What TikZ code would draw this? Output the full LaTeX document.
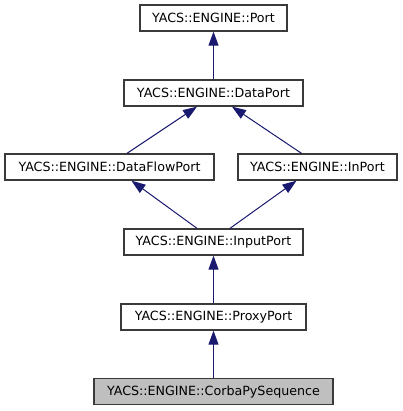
\documentclass[tikz,border=0pt]{standalone}
\usepackage{fontspec}
\setmainfont{DejaVu Sans}
\usetikzlibrary{arrows.meta,calc}
\definecolor{edgeblue}{HTML}{191970}
\definecolor{boxline}{HTML}{3A3A3A}
\definecolor{boxgray}{HTML}{BFBFBF}
\begin{document}
\begin{tikzpicture}[x=0.75pt,y=-0.75pt,
  cls/.style={draw=boxline, fill=white, line width=1pt, inner sep=0pt,
    font=\fontsize{9.5}{11}\selectfont, minimum height=19.5pt},
  cur/.style={cls, fill=boxgray},
  inh/.style={draw=edgeblue, line width=0.75pt,
    -{Triangle[length=10.5pt,width=7.5pt,fill=edgeblue]}}]
\useasboundingbox (0,0) rectangle (403,411);
\node[cls, minimum width=110.25pt] (port) at (213.5,18) {YACS::ENGINE::Port};
\node[cls, minimum width=134.25pt] (dport) at (213.5,93) {YACS::ENGINE::DataPort};
\node[cls, minimum width=156.75pt] (dfport) at (109.5,167) {YACS::ENGINE::DataFlowPort};
\node[cls, minimum width=119.25pt] (inport) at (317.5,167) {YACS::ENGINE::InPort};
\node[cls, minimum width=134.25pt] (iport) at (213.5,242) {YACS::ENGINE::InputPort};
\node[cls, minimum width=138.75pt] (pport) at (213.5,317) {YACS::ENGINE::ProxyPort};
\node[cur, minimum width=179.25pt] (cps) at (213.5,391.5) {YACS::ENGINE::CorbaPySequence};
\draw[inh] (dport.north) -- (port.south);
\draw[inh] ($(dfport.north)+(17.5,0)$) -- ($(dport.south)+(-16.5,0)$);
\draw[inh] ($(inport.north)+(-16,0)$) -- ($(dport.south)+(18.5,0)$);
\draw[inh] ($(iport.north)+(-16.5,0)$) -- ($(dfport.south)+(22,0)$);
\draw[inh] ($(iport.north)+(16.5,0)$) -- ($(inport.south)+(-21,0)$);
\draw[inh] (pport.north) -- (iport.south);
\draw[inh] (cps.north) -- (pport.south);
\end{tikzpicture}
\end{document}
